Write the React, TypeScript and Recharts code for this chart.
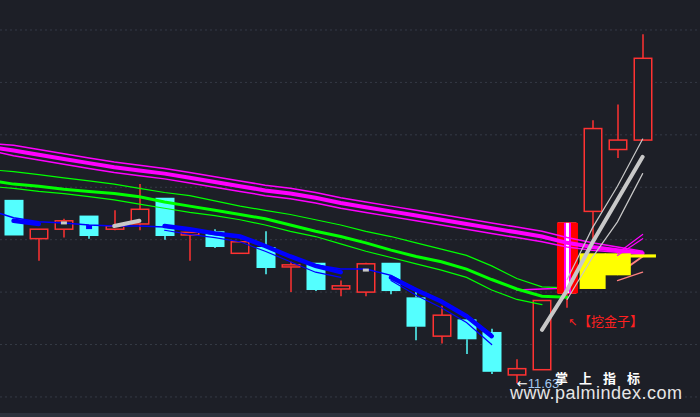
import React from 'react';
import {
  ComposedChart,
  Bar,
  Line,
  Scatter,
  XAxis,
  YAxis,
  ReferenceLine,
  ReferenceDot,
} from 'recharts';

const BG = '#1d1f27';
const RED = '#ff3232';
const CYAN = '#54ffff';
const X_DOMAIN: [number, number] = [-0.54, 27.28];
const Y_DOMAIN: [number, number] = [11.347, 15.286];

// candles (26 days)
const opens = [13.38, 13.01, 13.10, 13.23, 13.10, 13.15, 13.40, 13.045, 13.08, 12.87, 12.93, 12.74, 12.78, 12.53, 12.50, 12.78, 12.45, 12.08, 12.24, 12.12, 11.71, 11.76, 12.49, 13.27, 13.86, 13.95];
const highs = [13.38, 13.10, 13.20, 13.23, 13.28, 13.53, 13.40, 13.07, 13.10, 12.98, 13.08, 12.79, 12.78, 12.61, 12.78, 12.78, 12.51, 12.37, 12.27, 12.15, 11.86, 12.42, 13.16, 14.14, 14.29, 14.96];
const lows = [13.04, 12.80, 13.02, 13.01, 13.09, 13.09, 13.00, 12.80, 12.92, 12.87, 12.67, 12.50, 12.51, 12.46, 12.46, 12.48, 12.04, 12.01, 11.91, 11.72, 11.63, 11.76, 12.35, 12.97, 13.78, 13.95];
const closes = [13.04, 13.10, 13.18, 13.035, 13.13, 13.29, 13.035, 13.07, 12.93, 12.98, 12.73, 12.76, 12.52, 12.56, 12.77, 12.51, 12.17, 12.28, 12.05, 11.74, 11.77, 12.42, 13.16, 14.06, 13.95, 14.73];

const gridPrices = [11.5, 12, 12.5, 13, 13.5, 14, 14.5, 15];

// indicator lines
const magMid = [13.85, 13.81, 13.77, 13.73, 13.69, 13.66, 13.63, 13.59, 13.55, 13.51, 13.47, 13.44, 13.40, 13.35, 13.31, 13.27, 13.23, 13.19, 13.15, 13.11, 13.07, 13.03, 12.97, 12.93, 12.90, 12.87];
const magUp = [13.90, 13.86, 13.82, 13.78, 13.74, 13.71, 13.68, 13.64, 13.60, 13.56, 13.52, 13.49, 13.45, 13.40, 13.36, 13.32, 13.28, 13.24, 13.20, 13.16, 13.12, 13.08, 13.02, 12.97, 12.93, 12.89];
const magDn = [13.80, 13.76, 13.72, 13.68, 13.64, 13.61, 13.58, 13.54, 13.50, 13.46, 13.42, 13.39, 13.35, 13.30, 13.26, 13.22, 13.18, 13.14, 13.10, 13.06, 13.02, 12.98, 12.93, 12.90, 12.88, 12.86];
const grnMid = [13.53, 13.51, 13.48, 13.46, 13.44, 13.41, 13.36, 13.32, 13.28, 13.24, 13.20, 13.14, 13.08, 13.03, 12.97, 12.90, 12.84, 12.79, 12.72, 12.62, 12.53, 12.46, 12.45];
const grnUp = [13.65, 13.62, 13.59, 13.56, 13.53, 13.49, 13.45, 13.42, 13.37, 13.32, 13.28, 13.24, 13.19, 13.14, 13.08, 13.03, 12.97, 12.91, 12.85, 12.75, 12.63, 12.55, 12.54];
const grnDn = [13.49, 13.46, 13.44, 13.41, 13.38, 13.34, 13.30, 13.26, 13.23, 13.19, 13.14, 13.08, 13.03, 12.96, 12.89, 12.83, 12.77, 12.71, 12.64, 12.52, 12.43, 12.38];
const magLow = [null, null, null, null, null, null, null, null, null, null, null, null, null, null, null, null, null, null, null, null, 12.52, 12.53, 12.54];
const blueMain = [13.21, 13.17, 13.16, 13.14, 13.13, 13.13, 13.12, 13.09, 13.05, 13.02, 12.94, 12.84, 12.76, 12.72, 12.72, 12.66, 12.53, 12.42, 12.28, 12.10];
const blueThick = [13.18, 13.15, null, null, null, null, 13.13, 13.10, 13.06, 13.03, 12.94, 12.84, 12.75, 12.69, null, 12.64, 12.52, 12.41, 12.27, 12.08];
const blueLow = [null, null, null, null, null, null, 13.09, 13.05, 13.02, 12.98, 12.89, 12.79, 12.69, 12.64, null, 12.61, 12.47, 12.35, 12.21, 12.00];
const grayMid = [null, null, null, null, 13.13, 13.18, null, null, null, null, null, null, null, null, null, null, null, null, null, null, null, 12.14, 12.52, 12.97, 13.38, 13.79];
const grayUp = [null, null, null, null, null, null, null, null, null, null, null, null, null, null, null, null, null, null, null, null, null, null, 12.62, 13.11, 13.51, 13.96];
const grayDn = [null, null, null, null, null, null, null, null, null, null, null, null, null, null, null, null, null, null, null, null, null, null, 12.43, 12.83, 13.17, 13.63];
const magRise1 = [null, null, null, null, null, null, null, null, null, null, null, null, null, null, null, null, null, null, null, null, null, null, null, null, 12.87, 13.05];
const magRise2 = [null, null, null, null, null, null, null, null, null, null, null, null, null, null, null, null, null, null, null, null, null, null, null, null, 12.85, 13.01];
const salmon1 = [null, null, null, null, null, null, null, null, null, null, null, null, null, null, null, null, null, null, null, null, null, null, null, null, 12.67, 12.84];
const salmon2 = [null, null, null, null, null, null, null, null, null, null, null, null, null, null, null, null, null, null, null, null, null, null, null, null, 12.61, 12.69];

// line values where the lines enter at the left edge
const edgeValues = { magMid: 13.87, magUp: 13.91, magDn: 13.83, grnMid: 13.55, grnUp: 13.66, grnDn: 13.50, blueMain: 13.25 };

// isolated marks
const grayMarks = [{ i: 2, v: 13.16 }, { i: 14, v: 12.71 }];
const blueMarks = [{ i: 3, v: 13.12 }];

// stick bars
const signalBars = [{ at: 22, lo: 12.49, hi: 13.16 }];
const yellowBars = [
  { at: 23, lo: 12.53, hi: 12.87 },
  { at: 24, lo: 12.66, hi: 12.87 },
  { at: 25, lo: 12.83, hi: 12.86 },
];

const lowIdx = lows.indexOf(Math.min(...lows));

const rows: any[] = [
  { i: X_DOMAIN[0], ...edgeValues },
  ...opens.map((o, i) => {
    const s = signalBars.find((b) => b.at === i);
    const y = yellowBars.find((b) => b.at === i);
    return {
      i,
      o,
      h: highs[i],
      l: lows[i],
      c: closes[i],
      candle: [lows[i], highs[i]],
      sig: s ? [s.lo, s.hi] : null,
      yel: y ? [y.lo, y.hi] : null,
      magMid: magMid[i] ?? null,
      magUp: magUp[i] ?? null,
      magDn: magDn[i] ?? null,
      grnMid: grnMid[i] ?? null,
      grnUp: grnUp[i] ?? null,
      grnDn: grnDn[i] ?? null,
      magLow: magLow[i] ?? null,
      blueMain: blueMain[i] ?? null,
      blueThick: blueThick[i] ?? null,
      blueLow: blueLow[i] ?? null,
      grayMid: grayMid[i] ?? null,
      grayUp: grayUp[i] ?? null,
      grayDn: grayDn[i] ?? null,
      magRise1: magRise1[i] ?? null,
      magRise2: magRise2[i] ?? null,
      salmon1: salmon1[i] ?? null,
      salmon2: salmon2[i] ?? null,
    };
  }),
];

const Candle = (p: any) => {
  const { x, y, width, height, payload } = p;
  if (!payload || payload.o == null || !isFinite(y) || !isFinite(height)) return <g />;
  const { o, h, l, c } = payload;
  const toY = (v: number) => y + ((h - v) / (h - l)) * height;
  const cx = Math.round(x + width / 2);
  const up = c >= o;
  const col = up ? RED : CYAN;
  const top = toY(Math.max(o, c));
  const bot = toY(Math.min(o, c));
  const bw = 19;
  return (
    <g>
      <line x1={cx} x2={cx} y1={y} y2={top} stroke={col} strokeWidth={1.5} />
      <line x1={cx} x2={cx} y1={bot} y2={y + height} stroke={col} strokeWidth={1.5} />
      {up ? (
        <rect x={cx - bw / 2 + 0.75} y={top} width={bw - 1.5} height={Math.max(bot - top, 1)} fill={BG} stroke={col} strokeWidth={1.5} />
      ) : (
        <rect x={cx - bw / 2} y={top} width={bw} height={Math.max(bot - top, 1)} fill={col} />
      )}
    </g>
  );
};

const SignalShape = (p: any) => {
  if (!p.payload || !p.payload.sig || !isFinite(p.y)) return <g />;
  const cx = p.x + p.width / 2;
  return (
    <g>
      <rect x={cx - 10.5} y={p.y} width={21} height={p.height} fill="#ff0000" />
      <rect x={cx - 3.5} y={p.y} width={7} height={p.height} fill="#ff00ff" />
      <rect x={cx - 1.5} y={p.y} width={3} height={p.height} fill="#ffffff" />
    </g>
  );
};

const YellowShape = (p: any) => {
  if (!p.payload || !p.payload.yel || !isFinite(p.y)) return <g />;
  const cx = p.x + p.width / 2;
  return <rect x={cx - 13} y={p.y} width={26} height={Math.max(p.height, 2.5)} fill="#ffff00" />;
};

const GrayDash = (p: any) => <rect x={p.cx - 3} y={p.cy - 1.5} width={6} height={3} fill="#c8c8c8" />;
const BlueDash = (p: any) => <rect x={p.cx - 3} y={p.cy - 2} width={6} height={4} fill="#0000ff" />;

const LowLabel = (p: any) => {
  const vb = p.viewBox || {};
  const x = (vb.x ?? 0) + (vb.width ?? 0) / 2;
  const y = (vb.y ?? 0) + (vb.height ?? 0) / 2;
  return (
    <text x={x} y={y + 5} fontSize={13} fontFamily="DejaVu Sans, Liberation Sans, sans-serif">
      <tspan fill="#ffffff">←</tspan>
      <tspan fill="#a4c8ee" fontFamily="Liberation Sans, sans-serif">{lows[lowIdx].toFixed(2)}</tspan>
    </text>
  );
};

const line = (key: string, color: string, width: number, z: number) => (
  <Line
    key={key}
    xAxisId="p"
    dataKey={key}
    stroke={color}
    strokeWidth={width}
    dot={false}
    activeDot={false}
    isAnimationActive={false}
    connectNulls={false}
    strokeLinecap="round"
    {...({ zIndex: z } as any)}
  />
);

export default function App() {
  return (
    <div style={{ position: 'absolute', left: 0, top: 0, width: 700, height: 417, background: BG, overflow: 'hidden' }}>
      <ComposedChart width={700} height={413} data={rows} margin={{ top: 0, right: 0, bottom: 0, left: 0 }}>
        <XAxis xAxisId="p" type="number" dataKey="i" domain={X_DOMAIN} hide allowDataOverflow />
        <XAxis xAxisId="k" type="number" dataKey="i" domain={X_DOMAIN} hide allowDataOverflow />
        <XAxis xAxisId="s" type="number" dataKey="i" domain={X_DOMAIN} hide allowDataOverflow />
        <XAxis xAxisId="y" type="number" dataKey="i" domain={X_DOMAIN} hide allowDataOverflow />
        <YAxis type="number" domain={Y_DOMAIN} hide allowDataOverflow />
        {gridPrices.map((v) => (
          <ReferenceLine key={v} xAxisId="p" y={v} stroke="#353a46" strokeDasharray="2 3" strokeWidth={1} {...({ zIndex: 10 } as any)} />
        ))}
        <Bar xAxisId="k" dataKey="candle" barSize={19} shape={<Candle />} isAnimationActive={false} {...({ zIndex: 100 } as any)} />
        {line('magLow', '#ff00ff', 1.5, 190)}
        {line('grnUp', '#00ff00', 1.2, 200)}
        {line('grnDn', '#00ff00', 1.2, 201)}
        {line('grnMid', '#00ff00', 3, 202)}
        {line('blueMain', '#0000ff', 1.5, 210)}
        {line('blueLow', '#0000ff', 1.2, 211)}
        {line('blueThick', '#0000ff', 4.5, 212)}
        <Bar xAxisId="s" dataKey="sig" barSize={21} shape={<SignalShape />} isAnimationActive={false} {...({ zIndex: 300 } as any)} />
        {line('magUp', '#ff00ff', 1.5, 400)}
        {line('magDn', '#ff00ff', 1.5, 401)}
        {line('magMid', '#ff00ff', 4, 402)}
        {line('salmon1', '#ff8080', 2, 450)}
        {line('salmon2', '#ff8080', 1.2, 451)}
        <Bar xAxisId="y" dataKey="yel" barSize={24} shape={<YellowShape />} isAnimationActive={false} {...({ zIndex: 500 } as any)} />
        {line('magRise1', '#ff00ff', 1.2, 550)}
        {line('magRise2', '#ff00ff', 1.2, 551)}
        {line('grayUp', '#c8c8c8', 1.2, 600)}
        {line('grayDn', '#c8c8c8', 1.2, 601)}
        {line('grayMid', '#c8c8c8', 4, 602)}
        <Scatter xAxisId="p" data={grayMarks} dataKey="v" shape={<GrayDash />} isAnimationActive={false} {...({ zIndex: 650 } as any)} />
        <Scatter xAxisId="p" data={blueMarks} dataKey="v" shape={<BlueDash />} isAnimationActive={false} {...({ zIndex: 651 } as any)} />
        <ReferenceDot
          xAxisId="p"
          x={lowIdx}
          y={lows[lowIdx]}
          r={1}
          fill="none"
          stroke="none"
          label={{ content: LowLabel } as any}
          {...({ zIndex: 700 } as any)}
        />
      </ComposedChart>
      <svg width={700} height={417} style={{ position: 'absolute', left: 0, top: 0, pointerEvents: 'none' }}>
        <text x={568} y={326} fontSize={11} fill="#ff2020" fontFamily="DejaVu Sans">↖</text>
        <text x={578} y={326} fontSize={13} fill="#ff2020" fontFamily="Noto Sans CJK SC">【挖金子】</text>
        <text x={555} y={383} fontSize={13} fontWeight="bold" fill="#ffffff" letterSpacing={11} fontFamily="Noto Sans CJK SC">掌上指标</text>
        <text x={510} y={399} fontSize={18} fill="#e6e6e6" textLength={172} fontFamily="Liberation Sans, Arial, sans-serif">www.palmindex.com</text>
        <rect x={0} y={413} width={700} height={4} fill="#2c313c" />
      </svg>
    </div>
  );
}
